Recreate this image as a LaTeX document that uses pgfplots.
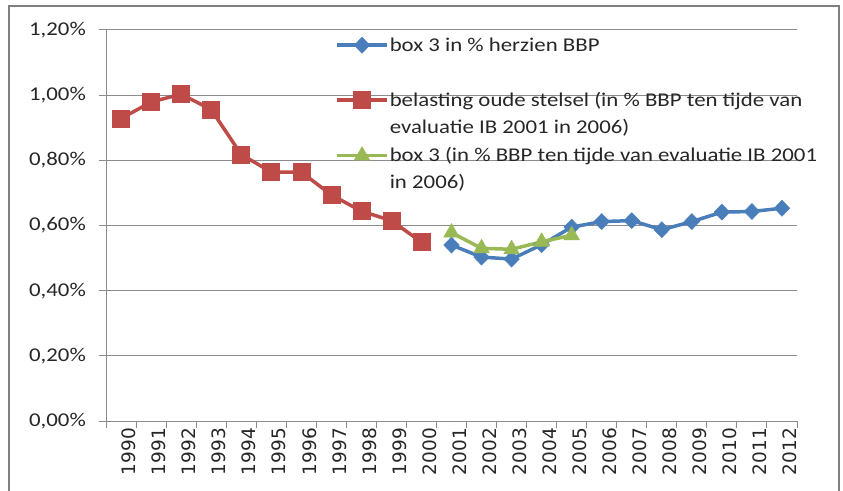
\documentclass[border=0pt]{standalone}
\usepackage{fontspec}
\setmainfont{Carlito}[FakeStretch=1.17]
\newfontfamily\xfont{DejaVu Sans}
\usepackage{pgfplots}
\pgfplotsset{compat=1.18}
\definecolor{sblue}{HTML}{4A7EBB}
\definecolor{sred}{HTML}{BE4B48}
\definecolor{sgreen}{HTML}{98B954}
\definecolor{gridgray}{HTML}{8C8C8C}
\definecolor{framegray}{HTML}{7F7F7F}
\definecolor{txt}{HTML}{262626}
\begin{document}
\begin{tikzpicture}
\useasboundingbox (0,0) rectangle (843bp,491bp);
\draw[color=framegray, line width=1.5bp] (9bp,-5bp) -- (9bp,485bp) -- (839bp,485bp) -- (839bp,-5bp);
\begin{axis}[
  at={(106bp,70bp)}, anchor=south west,
  scale only axis, width=691bp, height=391bp,
  xmin=1989.5, xmax=2012.5, ymin=0, ymax=1.2,
  axis x line*=bottom, axis y line*=left,
  axis line style={draw=gridgray, line width=1bp},
  ytick={0,0.2,...,1.2},
  xtick={1989.5,1990.5,...,2012.5},
  x tick label as interval,
  xticklabels={1990,1991,1992,1993,1994,1995,1996,1997,1998,1999,2000,2001,2002,2003,2004,2005,2006,2007,2008,2009,2010,2011,2012},
  tick align=outside, major tick length=7bp,
  tick style={draw=gridgray, line width=1bp},
  ymajorgrids, grid style={draw=gridgray, line width=1bp},
  /pgf/number format/assume math mode=true,
  yticklabel={\pgfmathprintnumber[fixed,fixed zerofill,precision=2,use comma]{\tick}\%},
  yticklabel style={font=\fontsize{19.5bp}{22bp}\selectfont, text=txt, inner sep=0pt, anchor=east, xshift=-13bp},
  xticklabel style={font=\xfont\fontsize{18.5bp}{20bp}\selectfont, text=txt, rotate=90, anchor=east, inner sep=0pt, yshift=-8bp},
  legend cell align=left,
  legend style={at={(0.3315,0.982)}, anchor=north west, draw=none, fill=none, inner sep=0pt, row sep=12bp, column sep=1bp,
    font=\fontsize{19.5bp}{27bp}\selectfont, text=txt,
    nodes={inner sep=0pt, align=left}, cells={anchor=base west}},
  legend image code/.code={\draw[mark repeat=2,mark phase=2] plot coordinates {(0bp,33bp)(25bp,33bp)(50bp,33bp)};},
]
\addplot[color=sblue, line width=3.5bp, mark=diamond*, mark size=8bp, mark options={xscale=1.3, line width=0.5bp}] coordinates {
(2001,0.540) (2002,0.503) (2003,0.497) (2004,0.541) (2005,0.595) (2006,0.612) (2007,0.615) (2008,0.587) (2009,0.612) (2010,0.641) (2011,0.643) (2012,0.653)};
\addlegendentry{box 3 in \% herzien BBP\\\strut}
\addplot[color=sred, line width=3.5bp, mark=square*, mark size=8.5bp, mark options={line width=0.5bp}] coordinates {
(1990,0.928) (1991,0.979) (1992,1.003) (1993,0.956) (1994,0.818) (1995,0.764) (1996,0.764) (1997,0.694) (1998,0.644) (1999,0.615) (2000,0.549)};
\addlegendentry{belasting oude stelsel (in \% BBP ten tijde van\\evaluatie IB 2001 in 2006)}
\addplot[color=sgreen, line width=3.5bp, mark=triangle*, mark size=9bp, mark options={line width=0.5bp}] coordinates {
(2001,0.578) (2002,0.530) (2003,0.527) (2004,0.550) (2005,0.570)};
\addlegendentry{box 3 (in \% BBP ten tijde van evaluatie IB 2001\\in 2006)}
\end{axis}
\end{tikzpicture}
\end{document}
